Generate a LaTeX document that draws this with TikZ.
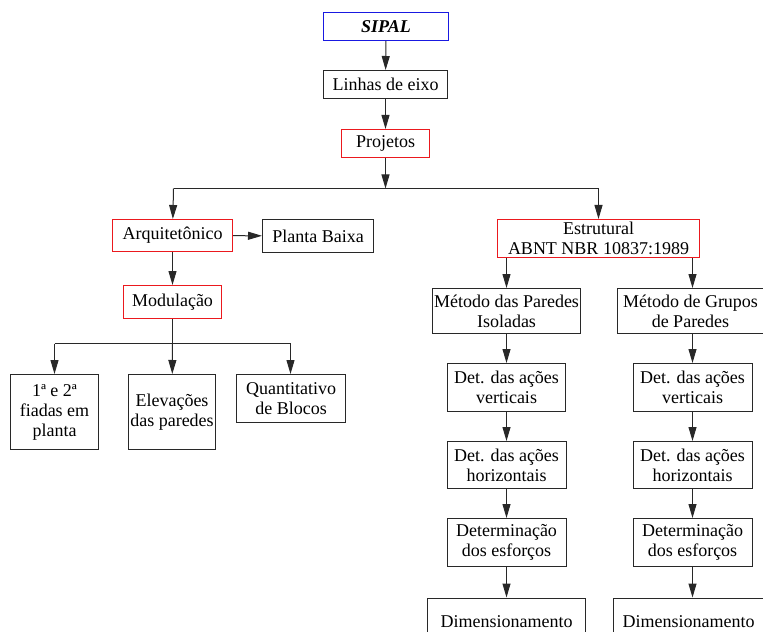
\documentclass[tikz,border=0pt]{standalone}
\usepackage{fontspec}
\setmainfont{Liberation Serif}
\usetikzlibrary{arrows.meta}
\definecolor{bred}{RGB}{235,25,30}
\definecolor{bblue}{RGB}{25,25,225}
\definecolor{bgray}{RGB}{40,40,40}
\tikzset{
  box/.style={draw=bgray, line width=1bp, align=center, inner sep=1bp,
    font=\fontsize{18bp}{20bp}\selectfont},
  redbox/.style={box, draw=bred},
  bluebox/.style={box, draw=bblue},
  arr/.style={draw=bgray, line width=1bp, -{Triangle[length=14bp,width=8bp]}},
  ln/.style={draw=bgray, line width=1bp}
}
\begin{document}
\begin{tikzpicture}[x=1bp,y=-1bp]
\useasboundingbox (0,0) rectangle (763,632);
\clip (0,0) rectangle (763,632);
\begin{scope}[shift={(0.5,0.5)}]
\node[bluebox, minimum width=125bp, minimum height=28bp] (sipal) at (385.5,26) {\textbf{\textit{SIPAL}}};
\node[box, minimum width=124bp, minimum height=28bp] (linhas) at (385,84) {Linhas de eixo};
\node[redbox, minimum width=88bp, minimum height=28bp] (proj) at (385,143) {Projetos};
\coordinate (hj) at (385,188);
\coordinate (hl) at (173,188);
\coordinate (hr) at (598,188);
\node[redbox, minimum width=120bp, minimum height=32bp] (arq) at (172,235) {Arquitetônico};
\node[box, minimum width=111bp, minimum height=32bp] (planta) at (317.5,235.5) {Planta Baixa};
\node[redbox, minimum width=98bp, minimum height=33bp] (mod) at (172,301.5) {Modulação};
\coordinate (mj) at (172,343);
\coordinate (ml) at (54,343);
\coordinate (mr) at (290,343);
\node[box, minimum width=87bp, minimum height=75bp] (b1) at (54,411.5) {1ª e 2ª\\fiadas em\\planta};
\node[box, minimum width=87bp, minimum height=75bp] (b2) at (171.5,411.5) {Elevações\\das paredes};
\node[box, minimum width=109bp, minimum height=48bp] (b3) at (290.5,398) {Quantitativo\\de Blocos};
\node[redbox, minimum width=202bp, minimum height=38bp] (estr) at (598,238) {Estrutural\\ABNT NBR 10837:1989};
\node[box, minimum width=148bp, minimum height=45bp] (mpi) at (506,310.5) {Método das Paredes\\Isoladas};
\node[box, minimum width=146bp, minimum height=45bp] (mgp) at (690,310.5) {Método de Grupos\\de Paredes};
\node[box, minimum width=118bp, minimum height=48bp] (dv1) at (506,387) {Det. das ações\\verticais};
\node[box, minimum width=119bp, minimum height=48bp] (dv2) at (692,387) {Det. das ações\\verticais};
\node[box, minimum width=119bp, minimum height=47bp] (dh1) at (506,464.5) {Det. das ações\\horizontais};
\node[box, minimum width=119bp, minimum height=47bp] (dh2) at (692,464.5) {Det. das ações\\horizontais};
\node[box, minimum width=119bp, minimum height=48bp] (de1) at (506,542) {Determinação\\dos esforços};
\node[box, minimum width=119bp, minimum height=48bp] (de2) at (692,542) {Determinação\\dos esforços};
\node[box, minimum width=158bp, minimum height=48bp, anchor=north] (dim1) at (506,597) {Dimensionamento};
\node[box, minimum width=150bp, minimum height=48bp, anchor=north] (dim2) at (688,597) {Dimensionamento};
% connectors
\draw[arr] (sipal) -- (linhas);
\draw[arr] (linhas) -- (proj);
\draw[arr] (proj) -- (hj);
\draw[ln] (hl) -- (hr);
\draw[arr] (hl) -- (arq);
\draw[arr] (hr) -- (estr);
\draw[arr] (arq) -- (planta);
\draw[arr] (arq) -- (mod);
\draw[ln] (mod) -- (mj);
\draw[ln] (ml) -- (mr);
\draw[arr] (ml) -- (b1);
\draw[arr] (mj) -- (b2);
\draw[arr] (mr) -- (b3.north -| mr);
\draw[arr] (estr.south -| mpi.north) -- (mpi.north);
\draw[arr] (estr.south -| dv2.north) -- (mgp.north -| dv2.north);
\draw[arr] (mpi) -- (dv1);
\draw[arr] (mgp.south -| dv2.north) -- (dv2);
\draw[arr] (dv1) -- (dh1);
\draw[arr] (dv2) -- (dh2);
\draw[arr] (dh1) -- (de1);
\draw[arr] (dh2) -- (de2);
\draw[arr] (de1) -- (dim1);
\draw[arr] (de2.south) -- (de2.south |- dim2.north);
\end{scope}
\end{tikzpicture}
\end{document}
